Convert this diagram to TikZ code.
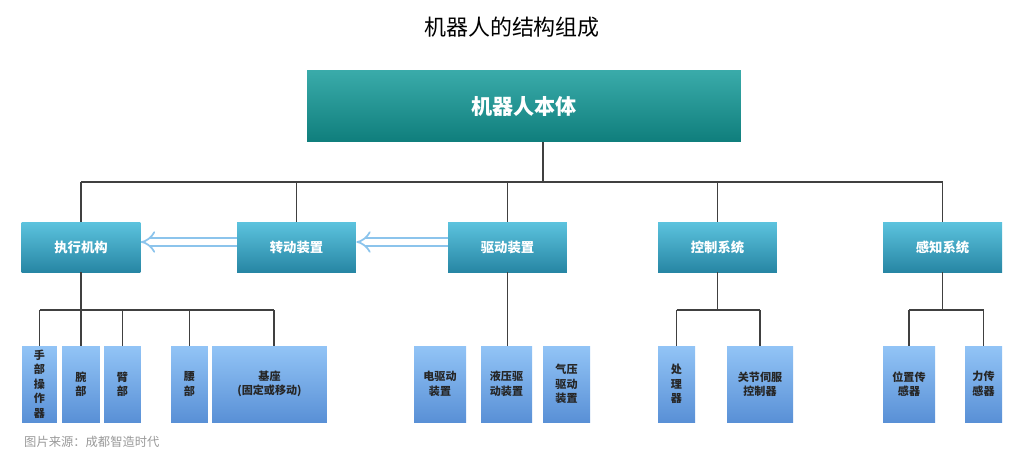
\documentclass[tikz,border=0pt]{standalone}
\usepackage{fontspec}
\setmainfont{Noto Sans CJK SC}
\usetikzlibrary{arrows.meta,positioning}
\definecolor{topA}{HTML}{3AABAA}
\definecolor{topB}{HTML}{0F7E7C}
\definecolor{midA}{HTML}{5CC3DE}
\definecolor{midB}{HTML}{2786A4}
\definecolor{lowA}{HTML}{92C4F6}
\definecolor{lowB}{HTML}{5990D6}
\definecolor{arrColor}{HTML}{8CC4EC}
\tikzset{
	top box/.style={top color=topA, bottom color=topB, draw=none, text=white,
		minimum width=8.68cm, minimum height=1.44cm, font=\fontsize{12}{12}\selectfont\bfseries},
	mid box/.style={top color=midA, bottom color=midB, draw=none, text=white,
		minimum width=2.38cm, minimum height=1cm, font=\fontsize{7.6}{8}\selectfont\bfseries},
	low box/.style={top color=lowA, bottom color=lowB, draw=none, text=black!85,
		minimum height=1.52cm, align=center, inner sep=0pt,
		font=\fontsize{6.3}{8.2}\selectfont\bfseries},
	bus/.style={draw=black!75, line width=0.9pt},
	hollow/.style={draw=arrColor, double=white, double distance=3.2pt, line width=1pt,
		-{Implies[length=6pt,width=14pt]}}
}
\begin{document}
\begin{tikzpicture}[x=0.02cm,y=-0.02cm]
	\useasboundingbox (0,0) rectangle (1024,460);
	\node (title) at (512,27) {\fontsize{12.5}{13}\selectfont 机器人的结构组成};
	\node[top box] (body) at (524,106) {机器人本体};
	% second level
	\node[mid box] (exec) at (81,247) {执行机构};
	\node[mid box] (trans) at (296.5,247) {转动装置};
	\node[mid box] (drive) at (507.5,247) {驱动装置};
	\node[mid box] (ctrl) at (717.5,247) {控制系统};
	\node[mid box] (sense) at (942.5,247) {感知系统};
	% third level
	\node[low box, minimum width=0.7cm] (hand) at (39.5,384) {手\\部\\操\\作\\器};
	\node[low box, minimum width=0.76cm] (wrist) at (81,384) {腕\\部};
	\node[low box, minimum width=0.74cm] (arm) at (122.5,384) {臂\\部};
	\node[low box, minimum width=0.74cm] (waist) at (189.5,384) {腰\\部};
	\node[low box, minimum width=2.3cm] (base) at (269.5,384) {基座\\(固定或移动)};
	\node[low box, minimum width=1.04cm] (elec) at (440,384) {电驱动\\装置};
	\node[low box, minimum width=1.02cm] (hydr) at (506.5,384) {液压驱\\动装置};
	\node[low box, minimum width=0.94cm] (pneu) at (566.5,384) {气压\\驱动\\装置};
	\node[low box, minimum width=0.74cm] (proc) at (676.5,384) {处\\理\\器};
	\node[low box, minimum width=1.32cm] (servo) at (760,384) {关节伺服\\控制器};
	\node[low box, minimum width=1.04cm] (pos) at (909,384) {位置传\\感器};
	\node[low box, minimum width=0.74cm] (force) at (983.5,384) {力传\\感器};
	% connectors
	\coordinate (b0) at (543,182);
	\draw[bus] (body.south -| b0) -- (b0);
	\draw[bus] (exec.north |- b0) -- (sense.north |- b0);
	\foreach \n in {exec,trans,drive,ctrl,sense}
		\draw[bus] (\n.north |- b0) -- (\n.north);
	\coordinate (b1) at (0,310);
	\draw[bus] (exec.south) -- (exec.south |- b1);
	\draw[bus] (hand.north |- b1) -- ([xshift=0.09cm]base.north |- b1);
	\foreach \n/\dx in {hand/0,wrist/0,arm/0,waist/0,base/4.5}
		\draw[bus] ([xshift=\dx*0.02cm]\n.north |- b1) -- ([xshift=\dx*0.02cm]\n.north);
	\draw[bus] (drive.south) -- (hydr.north -| drive.south);
	\draw[bus] (ctrl.south) -- (ctrl.south |- b1);
	\draw[bus] (proc.north |- b1) -- (servo.north |- b1);
	\draw[bus] (proc.north |- b1) -- (proc.north);
	\draw[bus] (servo.north |- b1) -- (servo.north);
	\draw[bus] (sense.south) -- (sense.south |- b1);
	\draw[bus] (pos.north |- b1) -- (force.north |- b1);
	\draw[bus] (pos.north |- b1) -- (pos.north);
	\draw[bus] (force.north |- b1) -- (force.north);
	% hollow arrows
	\draw[hollow] (trans.west |- 0,242) -- (exec.east |- 0,242);
	\draw[hollow] (drive.west |- 0,242) -- (trans.east |- 0,242);
	\node[anchor=west, text=black!40, font=\fontsize{7}{8}\selectfont] (src) at (18,442) {图片来源：成都智造时代};
\end{tikzpicture}
\end{document}
